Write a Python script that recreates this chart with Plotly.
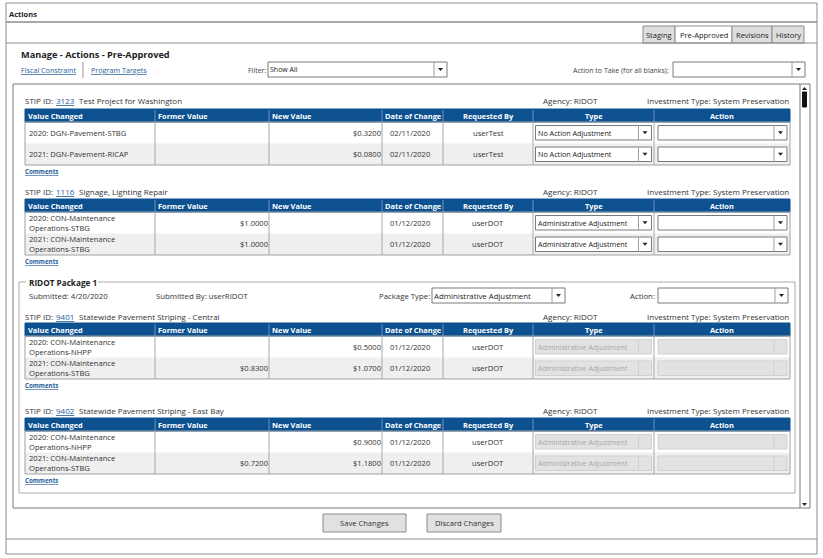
import plotly.graph_objects as go

# ---- data ----
page_title = "Manage - Actions - Pre-Approved"
tab_names = ["Staging", "Pre-Approved", "Revisions", "History"]
active_tab = "Pre-Approved"
top_links = ["Fiscal Constraint", "Program Targets"]
filter_value = "Show All"

stip_ids = ["3123", "1116", "9401", "9402"]
stip_titles = ["Test Project for Washington", "Signage, Lighting Repair",
               "Statewide Pavement Striping - Central", "Statewide Pavement Striping - East Bay"]
agencies = ["RIDOT", "RIDOT", "RIDOT", "RIDOT"]
investment_types = ["System Preservation"] * 4
columns = ["Value Changed", "Former Value", "New Value", "Date of Change", "Requested By", "Type", "Action"]

value_changed = [
    ["2020: DGN-Pavement-STBG", "2021: DGN-Pavement-RICAP"],
    ["2020: CON-Maintenance<br>Operations-STBG", "2021: CON-Maintenance<br>Operations-STBG"],
    ["2020: CON-Maintenance<br>Operations-NHPP", "2021: CON-Maintenance<br>Operations-STBG"],
    ["2020: CON-Maintenance<br>Operations-NHPP", "2021: CON-Maintenance<br>Operations-STBG"],
]
former_values = [["", ""], ["$1.0000", "$1.0000"], ["", "$0.8300"], ["", "$0.7200"]]
new_values = [["$0.3200", "$0.0800"], ["", ""], ["$0.5000", "$1.0700"], ["$0.9000", "$1.1800"]]
change_dates = [["02/11/2020"] * 2, ["01/12/2020"] * 2, ["01/12/2020"] * 2, ["01/12/2020"] * 2]
requested_by = [["userTest"] * 2, ["userDOT"] * 2, ["userDOT"] * 2, ["userDOT"] * 2]
row_types = [["No Action Adjustment"] * 2, ["Administrative Adjustment"] * 2,
             ["Administrative Adjustment"] * 2, ["Administrative Adjustment"] * 2]
section_enabled = [True, True, False, False]

package_name = "RIDOT Package 1"
package_submitted = "4/20/2020"
package_by = "userRIDOT"
package_type = "Administrative Adjustment"
buttons = ["Save Changes", "Discard Changes"]

# ---- layout constants ----
W, H = 823, 558
FONT = "Open Sans"
TXT = "#333333"
LINK = "#1f5c9c"
HEAD = "#0d5191"
col_x = [25, 155, 269, 382, 443, 533, 654, 790]
label_y = [100, 191, 316, 410]
head_y = [109, 199, 323, 418]
HEAD_H, ROW_H = 13, 21.5

shapes = []
notes = []


def rect(x0, y0, x1, y1, fill="rgba(0,0,0,0)", line="#8c8c8c", lw=1):
    shapes.append(dict(type="rect", x0=x0, y0=y0, x1=x1, y1=y1, fillcolor=fill,
                       line=dict(color=line, width=lw), layer="below"))


def hline(x0, x1, y, color="#8c8c8c", lw=1):
    shapes.append(dict(type="line", x0=x0, x1=x1, y0=y, y1=y, line=dict(color=color, width=lw)))


def vline(x, y0, y1, color="#8c8c8c", lw=1):
    shapes.append(dict(type="line", x0=x, x1=x, y0=y0, y1=y1, line=dict(color=color, width=lw)))


def arrow(cx, cy, up=False, color="#222"):
    if up:
        p = f"M {cx-2.5},{cy+1.5} L {cx+2.5},{cy+1.5} L {cx},{cy-1.5} Z"
    else:
        p = f"M {cx-2.5},{cy-1.5} L {cx+2.5},{cy-1.5} L {cx},{cy+1.5} Z"
    shapes.append(dict(type="path", path=p, fillcolor=color, line=dict(width=0)))


def text(x, y, s, size=8, color=TXT, anchor="left", bold=False, under=False):
    if bold:
        s = "<b>" + s + "</b>"
    f = dict(family=FONT, size=size, color=color)
    if under:
        f["lineposition"] = "under"
    shift = {"left": -2, "right": 2, "center": 0}[anchor]
    notes.append(dict(x=x, y=y, text=s, showarrow=False, xanchor=anchor, yanchor="middle",
                      xshift=shift, font=f, align=anchor))


def dropdown(x0, y0, x1, y1, value="", enabled=True, size=7.5):
    if enabled:
        rect(x0, y0, x1, y1, fill="white", line="#7a7a7a")
        vline(x1 - 13, y0, y1, color="#a0a0a0")
        arrow(x1 - 6.5, (y0 + y1) / 2)
        text(x0 + 2, (y0 + y1) / 2, value, size=size, color="#222")
    else:
        rect(x0, y0, x1, y1, fill="#e2e2e2", line="#d0d0d0")
        vline(x1 - 13, y0, y1, color="#d0d0d0")
        text(x0 + 2, (y0 + y1) / 2, value, size=size, color="#a8a8a8")


# ---- outer frame ----
rect(6, 3, 817, 554, fill="white", line="#8c8c8c")
hline(6, 817, 22, lw=1.5)
hline(6, 817, 43)
hline(6, 817, 539)
text(9, 14, "Actions", size=7.5, bold=True, color="#222")

tab_x = [643, 675, 732, 772, 804]
for i, name in enumerate(tab_names):
    rect(tab_x[i], 26, tab_x[i + 1], 43, fill="white" if name == active_tab else "#dedede", line="#8c8c8c")
    text((tab_x[i] + tab_x[i + 1]) / 2, 34.5, name, size=7.5, anchor="center", color="#222")

text(21, 54, page_title, size=9.2, bold=True, color="#222")
text(21, 70, top_links[0], size=7.2, color=LINK, under=True)
vline(83, 62, 78, color="#999")
text(91, 70, top_links[1], size=7.2, color=LINK, under=True)

text(266, 70, "Filter:", size=7, anchor="right", color="#444")
dropdown(268, 62, 447, 77, filter_value, size=7)
text(669, 70, "Action to Take (for all blanks):", size=7, anchor="right", color="#444")
dropdown(673, 62, 805, 77, "")

# ---- scroll panel ----
rect(13, 84, 810, 508, fill="white", line="#7a7a7a")
vline(800, 84, 508, color="#7a7a7a")
shapes.append(dict(type="rect", x0=802.5, x1=806.5, y0=92, y1=107, fillcolor="#111",
                   line=dict(color="#111", width=1)))
arrow(804.5, 88.5, up=True)
arrow(804.5, 504.5)

# ---- package fieldset ----
rect(19, 282, 795, 493, fill="rgba(0,0,0,0)", line="#aaaaaa")
shapes.append(dict(type="rect", x0=26, x1=98, y0=279, y1=285, fillcolor="white", line=dict(width=0)))
text(29, 282, package_name, size=8.2, bold=True, color="#222")
text(29, 296, "Submitted: " + package_submitted, size=7.8)
text(156, 296, "Submitted By: " + package_by, size=7.8)
text(430, 296, "Package Type:", size=7.8, anchor="right")
dropdown(432, 288, 565, 303, package_type, size=7.8)
text(655, 296, "Action:", size=7.8, anchor="right")
dropdown(658, 288, 788, 303, "")

# ---- project tables ----
for s in range(len(stip_ids)):
    ly = label_y[s]
    text(25, ly, "STIP ID: ", size=8)
    text(56, ly, stip_ids[s], size=8, color=LINK, under=True)
    text(79, ly, stip_titles[s], size=8)
    text(570, ly, "Agency: " + agencies[s], size=8, anchor="center")
    text(789, ly, "Investment Type: " + investment_types[s], size=8, anchor="right")

    hy = head_y[s]
    n = len(value_changed[s])
    bottom = hy + HEAD_H + n * ROW_H
    shapes.append(dict(type="rect", x0=col_x[0], x1=col_x[-1], y0=hy, y1=hy + HEAD_H,
                       fillcolor=HEAD, line=dict(color=HEAD, width=1)))
    for j, c in enumerate(columns):
        if j > 0:
            vline(col_x[j], hy + 1, hy + HEAD_H, color="#6d93bd")
        if j >= 4:
            text((col_x[j] + col_x[j + 1]) / 2, hy + HEAD_H / 2 + 0.5, c, size=7.4, color="white",
                 bold=True, anchor="center")
        else:
            text(col_x[j] + 3, hy + HEAD_H / 2 + 0.5, c, size=7.4, color="white", bold=True)

    for r in range(n):
        y0 = hy + HEAD_H + r * ROW_H
        y1 = y0 + ROW_H
        ym = (y0 + y1) / 2
        shapes.append(dict(type="rect", x0=col_x[0], x1=col_x[-1], y0=y0, y1=y1,
                           fillcolor="white" if r % 2 == 0 else "#efefef", line=dict(width=0),
                           layer="below"))
        text(col_x[0] + 4, ym, value_changed[s][r], size=7.6)
        text(col_x[2] - 1, ym, former_values[s][r], size=7.6, anchor="right")
        text(col_x[3] - 1, ym, new_values[s][r], size=7.6, anchor="right")
        text((col_x[3] + col_x[4]) / 2 - 3, ym, change_dates[s][r], size=7.6, anchor="center")
        text((col_x[4] + col_x[5]) / 2, ym, requested_by[s][r], size=7.6, anchor="center")
        dropdown(col_x[5] + 2.5, y0 + 3.5, col_x[6] - 2.5, y1 - 3.5, row_types[s][r],
                 enabled=section_enabled[s], size=7.2)
        dropdown(col_x[6] + 4, y0 + 3.5, col_x[7] - 3, y1 - 3.5, "", enabled=section_enabled[s])

    for j in range(1, len(col_x) - 1):
        vline(col_x[j], hy + HEAD_H, bottom, color="#a8a8a8")
    shapes.append(dict(type="rect", x0=col_x[0], x1=col_x[-1], y0=hy + HEAD_H, y1=bottom,
                       line=dict(color="#a0a0a0", width=1)))
    text(25, bottom + 6, "Comments", size=6.2, bold=True, color=LINK, under=True)

# ---- buttons ----
btn_x = [(323, 406), (427, 501)]
for (x0, x1), b in zip(btn_x, buttons):
    rect(x0, 514, x1, 532, fill="#e1e1e1", line="#8a8a8a")
    text((x0 + x1) / 2, 523, b, size=7.6, anchor="center")

fig = go.Figure()
fig.update_layout(
    width=W, height=H, margin=dict(l=0, r=0, t=0, b=0),
    paper_bgcolor="white", plot_bgcolor="white",
    xaxis=dict(range=[0, W], visible=False, fixedrange=True),
    yaxis=dict(range=[H, 0], visible=False, fixedrange=True),
    shapes=shapes, annotations=notes, showlegend=False,
)
# page body margin would push the figure 8px off the window
fig.write_html("out.html", config={"displayModeBar": False},
               post_script="document.body.style.margin='0';document.body.style.overflow='hidden';")
